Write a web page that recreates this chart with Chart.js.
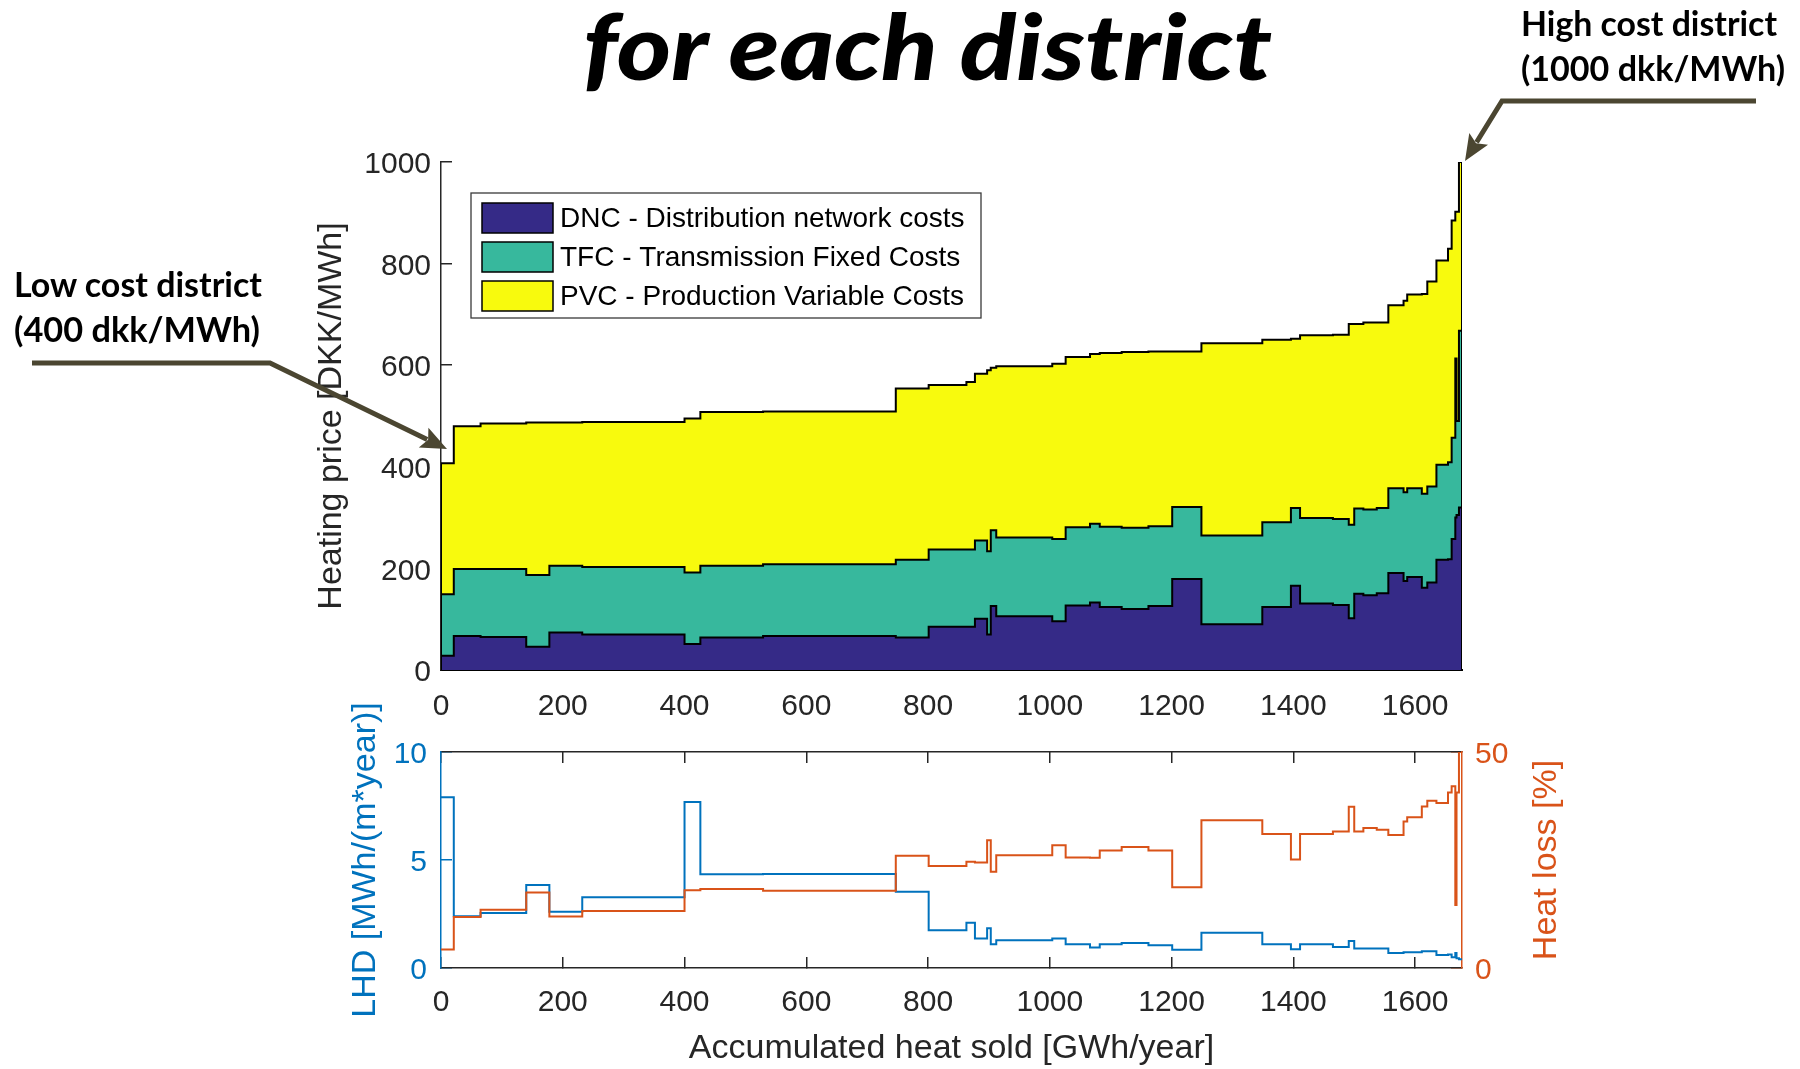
<!DOCTYPE html>
<html>
<head>
<meta charset="utf-8">
<title>Heating price for each district</title>
<script src="https://cdn.jsdelivr.net/npm/chart.js@4.4.1/dist/chart.umd.min.js"></script>
<style>
  html, body { margin: 0; padding: 0; background: #ffffff; }
  #page { position: relative; width: 1800px; height: 1069px; overflow: hidden; background: #ffffff; }
  .layer { position: absolute; left: 0; top: 0; width: 1800px; height: 1069px; }
  svg.layer { pointer-events: none; }
</style>
</head>
<body>
<div id="page">
  <div class="layer"><canvas id="costChart" width="1800" height="1069"></canvas></div>
  <div class="layer"><canvas id="lossChart" width="1800" height="1069"></canvas></div>
  <svg class="layer" id="notes" width="1800" height="1069" viewBox="0 0 1800 1069" xmlns="http://www.w3.org/2000/svg">
    <g font-family="Lato, 'Open Sans', sans-serif" fill="#000000">
      <text x="583" y="80" font-size="92" font-weight="900" font-style="italic" textLength="689" lengthAdjust="spacingAndGlyphs">for each district</text>
      <text x="1521" y="36" font-size="35" font-weight="700" textLength="256" lengthAdjust="spacingAndGlyphs">High cost district</text>
      <text x="1521" y="81" font-size="35" font-weight="700" textLength="264" lengthAdjust="spacingAndGlyphs">(1000 dkk/MWh)</text>
      <text x="14" y="297" font-size="35" font-weight="700" textLength="248" lengthAdjust="spacingAndGlyphs">Low cost district</text>
      <text x="14" y="342" font-size="35" font-weight="700" textLength="246" lengthAdjust="spacingAndGlyphs">(400 dkk/MWh)</text>
    </g>
    <g id="arrows"></g>
  </svg>
</div>
<script>
// District boundaries along the accumulated heat axis [GWh/year]
const districtEdges = [0, 21, 65, 140, 178, 232, 400, 426, 529, 747,
  801, 863, 877, 897, 903, 912, 1004, 1026, 1066, 1082,
  1118, 1162, 1201, 1249, 1349, 1396, 1411, 1465, 1491, 1500,
  1515, 1537, 1556, 1581, 1587, 1611, 1620, 1635, 1654, 1660,
  1666, 1668, 1672, 1677];

// Cost components per district [DKK/MWh]
const dncCost = [28, 67, 65, 46, 74, 70, 51, 64, 67, 64,
  85, 85, 101, 70, 126, 106, 96, 127, 133, 124,
  120, 126, 179, 90, 124, 166, 131, 128, 102, 150,
  147, 151, 191, 175, 183, 162, 172, 217, 218, 258,
  300, 305, 320];
const tfcCost = [121, 132, 134, 141, 131, 133, 141, 141, 141, 153,
  152, 152, 154, 164, 149, 155, 162, 154, 155, 158,
  160, 157, 142, 175, 167, 153, 168, 169, 184, 168,
  169, 168, 167, 175, 175, 185, 189, 187, 191, 199,
  313, 185, 348];
const pvcCost = [258, 281, 286, 300, 282, 285, 303, 303, 301, 337,
  324, 330, 328, 356, 320, 337, 345, 335, 334, 342,
  346, 344, 306, 378, 359, 333, 360, 363, 395, 363,
  368, 365, 360, 377, 381, 393, 404, 402, 420, 428,
  289, 412, 332];

// Linear heat density [MWh/(m*year)] and heat loss [%] per district
const lhdValues = [7.9, 2.4, 2.55, 3.84, 2.6, 3.27, 7.68, 4.34, 4.35, 3.53,
  1.75, 2.1, 1.37, 1.84, 1.1, 1.29, 1.36, 1.1, 0.95, 1.1,
  1.16, 1.05, 0.84, 1.63, 1.1, 0.87, 1.1, 0.97, 1.25, 0.9,
  0.9, 0.9, 0.7, 0.73, 0.73, 0.78, 0.78, 0.6, 0.62, 0.5,
  0.7, 0.45, 0.4];
const heatLossPct = [4.3, 11.8, 13.5, 17.5, 11.9, 13.2, 18.0, 18.3, 17.9, 26.0,
  23.6, 24.6, 24.4, 29.6, 22.3, 26.1, 28.4, 25.6, 25.5, 27.2,
  28.0, 27.2, 18.7, 34.2, 31.0, 25.1, 31.0, 31.6, 37.3, 31.6,
  32.4, 32.0, 30.8, 33.9, 34.9, 37.4, 38.7, 38.2, 40.6, 42.1,
  14.6, 40.6, 50.0];

// Tick values
const heatTicks = [0, 200, 400, 600, 800, 1000, 1200, 1400, 1600];
const priceTicks = [0, 200, 400, 600, 800, 1000];
const lhdTicks = [0, 5, 10];
const lossTicks = [0, 50];

const seriesLabels = [
  'DNC - Distribution network costs',
  'TFC - Transmission Fixed Costs',
  'PVC - Production Variable Costs'
];
const lossTitle = 'Heat loss [%]';

const FONT = "'Liberation Sans', Arial, Helvetica, sans-serif";
const AXIS = '#262626';
const DNC_COLOR = '#352a87';
const TFC_COLOR = '#37b89d';
const PVC_COLOR = '#f8fa0d';
const LHD_COLOR = '#0072bd';
const LOSS_COLOR = '#d95319';
const tickFont = { family: FONT, size: 30 };
const titleFont = { family: FONT, size: 34 };

Chart.defaults.font.family = FONT;

const lastEdge = districtEdges[districtEdges.length - 1];
const plainNumber = (v) => String(v);

// Each district value holds from its left edge to the next edge
function stepSeries(values) {
  const pts = values.map((v, i) => ({ x: districtEdges[i], y: v }));
  pts.push({ x: districtEdges[values.length], y: values[values.length - 1] });
  return pts;
}
function fixedTicks(list) {
  return (scale) => { scale.ticks = list.map(v => ({ value: v })); };
}

const tfcTop = dncCost.map((v, i) => v + tfcCost[i]);
const totalPrice = tfcTop.map((v, i) => v + pvcCost[i]);
const nD = totalPrice.length;

// Legend drawn inside the price plot
const costLegend = {
  id: 'costLegend',
  afterDraw(chart) {
    const ctx = chart.ctx;
    const box = { left: 471, top: 193, right: 981, bottom: 318 };
    ctx.save();
    ctx.fillStyle = '#ffffff';
    ctx.fillRect(box.left, box.top, box.right - box.left, box.bottom - box.top);
    ctx.strokeStyle = '#3a3a3a';
    ctx.lineWidth = 1.3;
    ctx.strokeRect(box.left, box.top, box.right - box.left, box.bottom - box.top);
    const rowCenters = [218, 257, 296];
    const colors = [DNC_COLOR, TFC_COLOR, PVC_COLOR];
    ctx.font = '28px ' + FONT;
    ctx.textBaseline = 'middle';
    ctx.textAlign = 'left';
    seriesLabels.forEach((lab, i) => {
      const cy = rowCenters[i];
      ctx.fillStyle = colors[i];
      ctx.fillRect(482, cy - 15, 71, 30);
      ctx.strokeStyle = '#000000';
      ctx.lineWidth = 1.5;
      ctx.strokeRect(482, cy - 15, 71, 30);
      ctx.fillStyle = '#000000';
      ctx.fillText(lab, 560, cy + 1);
    });
    ctx.restore();
  }
};

// Right-axis title reads bottom-to-top, like the left one
const lossAxisTitle = {
  id: 'lossAxisTitle',
  afterDraw(chart) {
    const s = chart.scales.yR;
    const ctx = chart.ctx;
    ctx.save();
    ctx.translate(s.right - 20.4, (chart.chartArea.top + chart.chartArea.bottom) / 2);
    ctx.rotate(-Math.PI / 2);
    ctx.font = '34px ' + FONT;
    ctx.fillStyle = LOSS_COLOR;
    ctx.textAlign = 'center';
    ctx.textBaseline = 'middle';
    ctx.fillText(lossTitle, 0, 0);
    ctx.restore();
  }
};

const areaStyle = {
  stepped: 'before',
  borderColor: '#000000',
  borderWidth: 2,
  pointRadius: 0,
  borderJoinStyle: 'miter',
  borderCapStyle: 'butt'
};

new Chart(document.getElementById('costChart'), {
  type: 'line',
  data: {
    datasets: [
      Object.assign({ label: seriesLabels[0], data: stepSeries(dncCost), fill: 'origin', backgroundColor: DNC_COLOR }, areaStyle),
      Object.assign({ label: seriesLabels[1], data: stepSeries(tfcTop), fill: '-1', backgroundColor: TFC_COLOR }, areaStyle),
      Object.assign({ label: seriesLabels[2], data: stepSeries(totalPrice), fill: '-1', backgroundColor: PVC_COLOR }, areaStyle),
      { label: 'first edge', data: [{ x: districtEdges[0], y: 0 }, { x: districtEdges[0], y: totalPrice[0] }],
        borderColor: '#000000', borderWidth: 2, pointRadius: 0, fill: false, order: -1 },
      { label: 'last edge', data: [{ x: lastEdge, y: 0 }, { x: lastEdge, y: totalPrice[nD - 1] }],
        borderColor: '#000000', borderWidth: 2, pointRadius: 0, fill: false, order: -1 }
    ]
  },
  options: {
    responsive: false,
    animation: false,
    events: [],
    layout: { padding: { left: 311, right: 338, top: 162, bottom: 339 } },
    plugins: { legend: { display: false }, tooltip: { enabled: false } },
    scales: {
      x: {
        type: 'linear', position: 'bottom', min: 0, max: lastEdge, z: 1,
        afterBuildTicks: fixedTicks(heatTicks),
        afterFit: (s) => { s.height = 60; },
        ticks: { font: tickFont, color: AXIS, padding: 19, maxRotation: 0, callback: plainNumber },
        grid: { display: false, drawTicks: false, drawOnChartArea: false },
        border: { display: true, color: '#000000', width: 2 }
      },
      y: {
        type: 'linear', position: 'left', min: 0, max: 1000,
        afterBuildTicks: fixedTicks(priceTicks),
        afterFit: (s) => { s.width = 130; },
        ticks: { font: tickFont, color: AXIS, padding: 21, labelOffset: 3, callback: plainNumber },
        grid: { drawOnChartArea: false, drawTicks: true, tickLength: -11, color: AXIS, lineWidth: 1.5 },
        border: { display: true, color: AXIS, width: 1.5 },
        title: { display: true, text: 'Heating price [DKK/MWh]', font: titleFont, color: AXIS, padding: 0 }
      }
    }
  },
  plugins: [costLegend]
});

const lineStyle = {
  stepped: 'before',
  borderWidth: 2,
  pointRadius: 0,
  fill: false,
  borderJoinStyle: 'miter',
  borderCapStyle: 'butt'
};

new Chart(document.getElementById('lossChart'), {
  type: 'line',
  data: {
    datasets: [
      Object.assign({ label: lossTitle, data: stepSeries(heatLossPct), xAxisID: 'x', yAxisID: 'yR', borderColor: LOSS_COLOR }, lineStyle),
      Object.assign({ label: 'LHD [MWh/(m*year)]', data: stepSeries(lhdValues), xAxisID: 'x', yAxisID: 'yL', borderColor: LHD_COLOR }, lineStyle)
    ]
  },
  options: {
    responsive: false,
    animation: false,
    events: [],
    layout: { padding: { left: 345, right: 233, top: 740, bottom: 0 } },
    plugins: { legend: { display: false }, tooltip: { enabled: false } },
    scales: {
      x: {
        type: 'linear', position: 'bottom', min: 0, max: lastEdge,
        afterBuildTicks: fixedTicks(heatTicks),
        afterFit: (s) => { s.height = 101; },
        ticks: { font: tickFont, color: AXIS, padding: 28, maxRotation: 0, callback: plainNumber },
        grid: { drawOnChartArea: false, drawTicks: true, tickLength: -11, color: AXIS, lineWidth: 1.5 },
        border: { display: true, color: AXIS, width: 1.5 },
        title: { display: true, text: 'Accumulated heat sold [GWh/year]', font: titleFont, color: AXIS, padding: 0 }
      },
      xTop: {
        type: 'linear', position: 'top', min: 0, max: lastEdge,
        afterBuildTicks: fixedTicks(heatTicks),
        afterFit: (s) => { s.height = 12; },
        ticks: { display: false },
        grid: { drawOnChartArea: false, drawTicks: true, tickLength: -11, color: AXIS, lineWidth: 1.5 },
        border: { display: true, color: AXIS, width: 1.5 }
      },
      yL: {
        type: 'linear', position: 'left', min: 0, max: 10,
        afterBuildTicks: fixedTicks(lhdTicks),
        afterFit: (s) => { s.width = 96; },
        ticks: { font: tickFont, color: LHD_COLOR, padding: 25, labelOffset: 3, callback: plainNumber },
        grid: { drawOnChartArea: false, drawTicks: true, tickLength: -11, color: LHD_COLOR, lineWidth: 1.5 },
        border: { display: true, color: LHD_COLOR, width: 1.5 },
        title: { display: true, text: 'LHD [MWh/(m*year)]', font: titleFont, color: LHD_COLOR, padding: 0 }
      },
      yR: {
        type: 'linear', position: 'right', min: 0, max: 50,
        afterBuildTicks: fixedTicks(lossTicks),
        afterFit: (s) => { s.width = 105; },
        ticks: { font: tickFont, color: LOSS_COLOR, padding: 24, labelOffset: 3, callback: plainNumber },
        grid: { drawOnChartArea: false, drawTicks: true, tickLength: -11, color: LOSS_COLOR, lineWidth: 1.5 },
        border: { display: true, color: LOSS_COLOR, width: 1.5 },
        title: { display: false }
      }
    }
  },
  plugins: [lossAxisTitle]
});

// Callout arrows for the cheapest and the most expensive district
(function drawCallouts() {
  const NS = 'http://www.w3.org/2000/svg';
  const g = document.getElementById('arrows');
  const color = '#4b4631';
  function callout(points) {
    const tip = points[points.length - 1];
    const prev = points[points.length - 2];
    const dx = tip[0] - prev[0], dy = tip[1] - prev[1];
    const len = Math.hypot(dx, dy);
    const ux = dx / len, uy = dy / len;
    const px = -uy, py = ux;
    const headLen = 26, headHalf = 11;
    const bx = tip[0] - ux * headLen, by = tip[1] - uy * headLen;
    const linePts = points.slice(0, -1).concat([[bx + ux * 4, by + uy * 4]]);
    const pl = document.createElementNS(NS, 'polyline');
    pl.setAttribute('points', linePts.map(p => p.join(',')).join(' '));
    pl.setAttribute('fill', 'none');
    pl.setAttribute('stroke', color);
    pl.setAttribute('stroke-width', '5');
    pl.setAttribute('stroke-linejoin', 'miter');
    g.appendChild(pl);
    const head = document.createElementNS(NS, 'polygon');
    const h = [
      [tip[0], tip[1]],
      [bx + px * headHalf, by + py * headHalf],
      [bx + ux * 5, by + uy * 5],
      [bx - px * headHalf, by - py * headHalf]
    ];
    head.setAttribute('points', h.map(p => p.join(',')).join(' '));
    head.setAttribute('fill', color);
    g.appendChild(head);
  }
  callout([[32, 363], [270, 363], [447, 449]]);
  callout([[1756, 101], [1502, 101], [1465, 161]]);
})();
</script>
</body>
</html>
